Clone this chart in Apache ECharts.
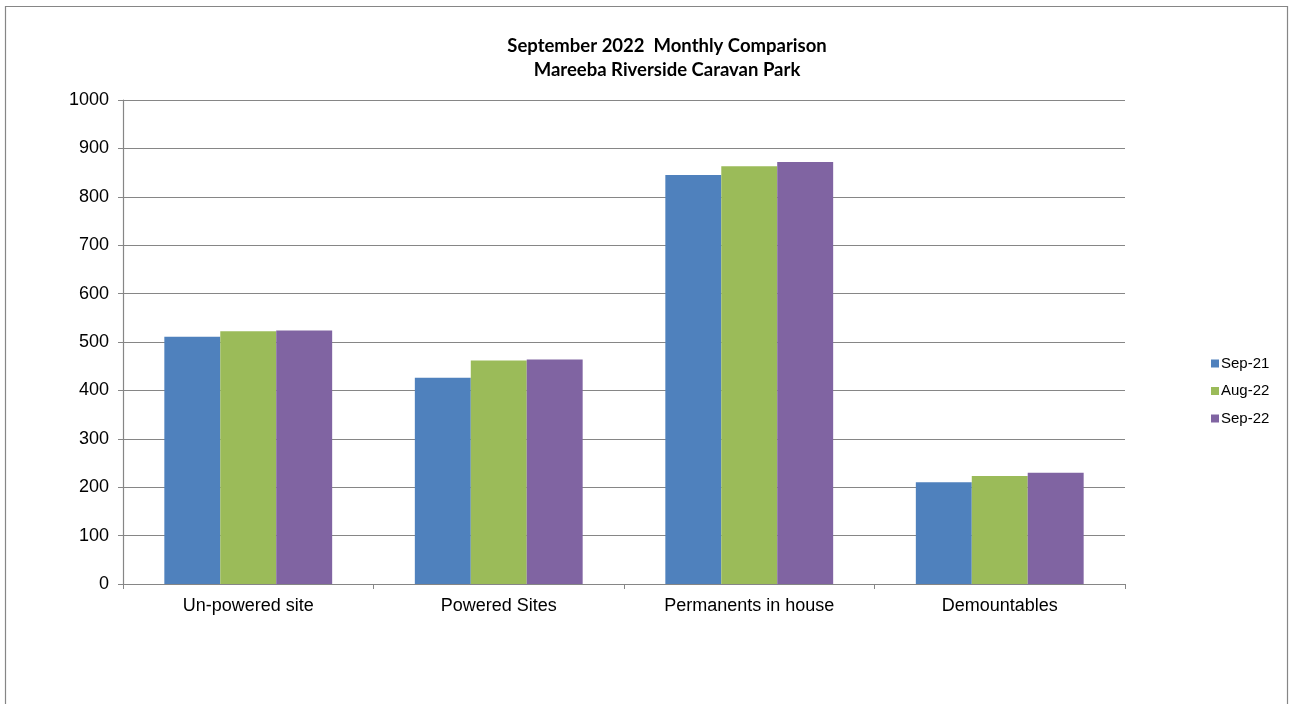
<!DOCTYPE html>
<html>
<head>
<meta charset="utf-8">
<script src="https://cdn.jsdelivr.net/npm/echarts@6/dist/echarts.min.js"></script>
<style>
html,body{margin:0;padding:0;background:#fff;}
#c{width:1290px;height:704px;}
</style>
</head>
<body>
<div id="c"></div>
<script>
const categories = ['Un-powered site', 'Powered Sites', 'Permanents in house', 'Demountables'];
const seriesNames = ['Sep-21', 'Aug-22', 'Sep-22'];
const sep21 = [511, 426, 845, 210];
const aug22 = [522, 462, 863, 223];
const sep22 = [524, 464, 872, 230];
const colors = ['#4F81BD', '#9BBB59', '#8064A2'];

const chart = echarts.init(document.getElementById('c'));
const dataSets = [sep21, aug22, sep22];
chart.setOption({
  animation: false,
  color: colors,
  graphic: [{
    type: 'rect',
    shape: { x: 5.5, y: 6.5, width: 1282, height: 720 },
    style: { fill: 'none', stroke: '#868686', lineWidth: 1.2 }
  }],
  title: {
    text: 'September 2022  Monthly Comparison\nMareeba Riverside Caravan Park',
    left: 662, top: 29, textAlign: 'center',
    textStyle: { fontFamily: 'Lato', fontWeight: 'bold', fontSize: 18.5, color: '#000', lineHeight: 24 }
  },
  legend: {
    orient: 'vertical', left: 1206, top: 351,
    itemWidth: 8, itemHeight: 8, itemGap: 12.5, icon: 'rect',
    textStyle: { fontFamily: 'Liberation Sans', fontSize: 15, color: '#000', padding: [0,0,0,-3] },
    data: seriesNames
  },
  grid: { left: 123, right: 165, top: 100, bottom: 120 },
  xAxis: {
    type: 'category', data: categories,
    axisLine: { lineStyle: { color: '#868686', width: 1.2 } },
    axisTick: { show: true, interval: 0, length: 5, lineStyle: { color: '#868686' } },
    axisLabel: { fontFamily: 'Liberation Sans', fontSize: 18, color: '#000', margin: 13 }
  },
  yAxis: {
    type: 'value', min: 0, max: 1000, interval: 100,
    axisLine: { show: true, lineStyle: { color: '#868686', width: 1.2 } },
    axisTick: { show: true, length: 5, lineStyle: { color: '#868686' } },
    splitLine: { lineStyle: { color: '#868686', width: 1.2 } },
    axisLabel: { fontFamily: 'Liberation Sans', fontSize: 18, color: '#000', margin: 14, formatter: v => String(v) }
  },
  series: seriesNames.map((n, i) => ({
    name: n, type: 'bar', data: dataSets[i],
    barGap: '0%', barCategoryGap: '33%'
  }))
});
</script>
</body>
</html>
